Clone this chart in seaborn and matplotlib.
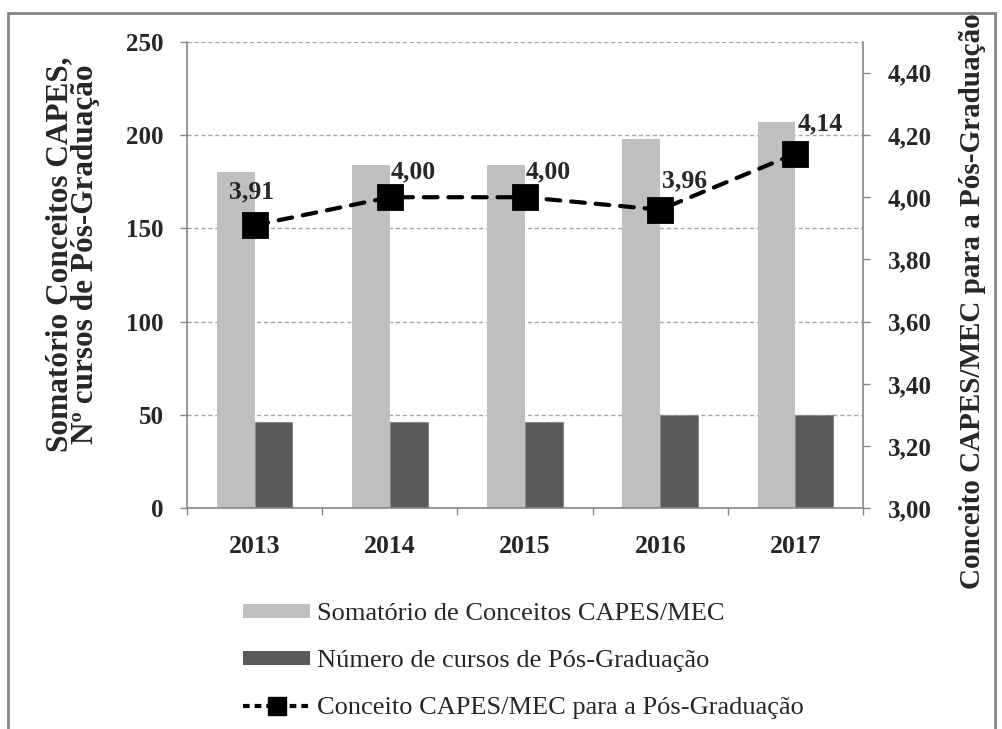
import matplotlib
matplotlib.use("Agg")
import matplotlib.pyplot as plt
import seaborn as sns
import pandas as pd
import numpy as np
from matplotlib.patches import Rectangle, Patch
from matplotlib.lines import Line2D
from matplotlib.ticker import FixedLocator, FuncFormatter

# ---- data ----
years = ["2013", "2014", "2015", "2016", "2017"]
somatorio = [180, 184, 184, 198, 207]
num_cursos = [46, 46, 46, 50, 50]
conceito = [3.91, 4.00, 4.00, 3.96, 4.14]
series_names = ["Somatório de Conceitos CAPES/MEC",
                "Número de cursos de Pós-Graduação",
                "Conceito CAPES/MEC para a Pós-Graduação"]

# label offsets (pixels) for the data labels
label_dx = [-3, 23, 23, 24, 25]
label_dy = [33, 25, 25, 29, 30]

sns.set_style("white")
plt.rcParams["font.family"] = ["Liberation Serif", "DejaVu Serif"]

W, H = 1003, 729
fig = plt.figure(figsize=(W / 100, H / 100), dpi=100)
L, R, T, B = 187, 863, 41.7, 508.3
ax = fig.add_axes([L / W, 1 - B / H, (R - L) / W, (B - T) / H])

df = pd.DataFrame({
    "Ano": years * 2,
    "Valor": somatorio + num_cursos,
    "Serie": [series_names[0]] * len(years) + [series_names[1]] * len(years),
})
light, dark = "#BFBFBF", "#595959"
sns.barplot(data=df, x="Ano", y="Valor", hue="Serie", order=years,
            hue_order=series_names[:2], palette=[light, dark],
            width=0.56, gap=0, saturation=1, ax=ax, legend=False,
            edgecolor="none", linewidth=0)
for p in ax.patches:
    if p.get_facecolor()[0] < 0.5:
        p.set_edgecolor("#8a8a8a")
        p.set_linewidth(0.8)

ax.set_ylim(0, 250)
ax.set_xlim(-0.5, len(years) - 0.5)
ax.yaxis.set_major_locator(FixedLocator([0, 50, 100, 150, 200, 250]))
ax.set_axisbelow(True)
ax.yaxis.grid(True, linestyle=(0, (3, 2)), color="#A6A6A6", linewidth=1.0)
ax.xaxis.grid(False)

spine_c = "#868686"
for s in ["left", "bottom"]:
    ax.spines[s].set_color(spine_c)
    ax.spines[s].set_linewidth(1.2)
ax.spines["top"].set_visible(False)
ax.spines["right"].set_visible(False)

ax.tick_params(axis="y", which="major", direction="out", length=5, width=1,
               color=spine_c, left=True, pad=12, labelsize=18)
ax.tick_params(axis="x", which="major", length=0, pad=19, labelsize=18.5)
ax.xaxis.set_minor_locator(FixedLocator(np.arange(-0.5, len(years), 1.0)))
ax.tick_params(axis="x", which="minor", direction="out", length=5, width=1,
               color=spine_c, bottom=True)
for lab in ax.get_xticklabels() + ax.get_yticklabels():
    lab.set_fontweight("bold")
ax.set_xlabel("")
ax.set_ylabel("Somatório Conceitos CAPES,\nNº cursos de Pós-Graduação",
              fontsize=22.5, fontweight="bold", linespacing=0.85)
ax.yaxis.set_label_coords(-0.128, 0.545)

# ---- secondary axis ----
ax2 = ax.twinx()
sns.pointplot(x=years, y=conceito, order=years, color="black", markers="s",
              linestyles="--", ax=ax2, errorbar=None)
for ln in ax2.lines:
    ln.set_markersize(17)
    ln.set_linewidth(3)
    ln.set_dashes((3.3, 2.6))
    ln.set_dash_capstyle("round")
for c in ax2.collections:
    c.set_sizes([17 ** 2])
    c.set_edgecolor("black")
    c.set_facecolor("black")
    c.set_zorder(5)

ax2.set_ylim(3.0, 4.5)
ax2.set_xlim(-0.5, len(years) - 0.5)
ax2.yaxis.set_major_locator(FixedLocator(np.round(np.arange(3.0, 4.41, 0.2), 2)))
ax2.yaxis.set_major_formatter(FuncFormatter(lambda v, p: f"{v:.2f}".replace(".", ",")))
ax2.grid(False)
for s in ["top", "left", "bottom"]:
    ax2.spines[s].set_visible(False)
ax2.spines["right"].set_color(spine_c)
ax2.spines["right"].set_linewidth(1.2)
ax2.tick_params(axis="y", direction="out", length=5, width=1, color=spine_c,
                right=True, pad=13, labelsize=18)
for lab in ax2.get_yticklabels():
    lab.set_fontweight("bold")
ax2.set_ylabel("Conceito CAPES/MEC para a Pós-Graduação", fontsize=21,
               fontweight="bold", rotation=90)
ax2.yaxis.set_label_coords(1.142, 0.444)

for i, v in enumerate(conceito):
    ax2.annotate(f"{v:.2f}".replace(".", ","), xy=(i, v),
                 xytext=(label_dx[i] * 0.72, label_dy[i] * 0.72),
                 textcoords="offset points", ha="center", va="center",
                 fontsize=18.5, fontweight="bold", zorder=6)

# ---- legend ----
handles = [
    Patch(facecolor=light, edgecolor="none"),
    Patch(facecolor=dark, edgecolor="none"),
    Line2D([0], [0], color="black", linestyle=(0, (1.6, 1.2)), linewidth=3,
           marker="s", markersize=13),
]
fig.legend(handles, series_names, loc="upper left",
           bbox_to_anchor=(230 / W, 1 - 590 / H), frameon=False,
           fontsize=19, handlelength=2.55, handleheight=0.45,
           handletextpad=0.25, labelspacing=0.95, borderpad=0)

# ---- outer frame ----
fig.patches.append(Rectangle((8 / W, -0.05), (995 - 8) / W, 1.05 - 13 / H,
                             transform=fig.transFigure, fill=False,
                             edgecolor="#868686", linewidth=2))

fig.savefig("out.png", dpi=100)
